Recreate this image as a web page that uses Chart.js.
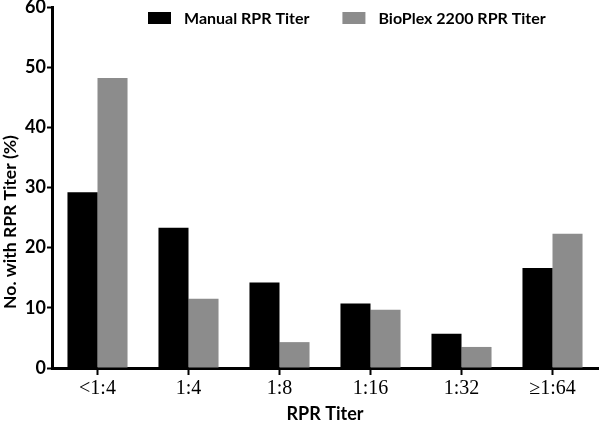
<!DOCTYPE html>
<html>
<head>
<meta charset="utf-8">
<script src="https://cdn.jsdelivr.net/npm/chart.js@4/dist/chart.umd.min.js"></script>
<style>
  html, body { margin: 0; padding: 0; background: #fff; }
  #wrap { width: 600px; height: 423px; }
</style>
</head>
<body>
<div id="wrap"><canvas id="c" width="600" height="423"></canvas></div>
<script>
const categories = ['<1:4', '1:4', '1:8', '1:16', '1:32', '\u22651:64'];
const manualRPR = [29.2, 23.3, 14.2, 10.7, 5.7, 16.6];
const bioplexRPR = [48.2, 11.5, 4.3, 9.7, 3.5, 22.3];
const seriesNames = ['Manual RPR Titer', 'BioPlex 2200 RPR Titer'];
const yTitle = 'No. with RPR Titer (%)';
const xTitle = 'RPR Titer';

const SANS = 'Lato, "Open Sans", sans-serif';

const customLegend = {
  id: 'customLegend',
  afterDraw(chart) {
    const ctx = chart.ctx;
    ctx.save();
    ctx.font = 'bold 16px ' + SANS;
    ctx.textBaseline = 'middle';
    ctx.textAlign = 'left';
    let x = 148;
    const boxY = 12, boxH = 12, boxW = 23;
    chart.data.datasets.forEach((ds, i) => {
      ctx.fillStyle = ds.backgroundColor;
      ctx.fillRect(x, boxY, boxW, boxH);
      const tx = x + 36;
      ctx.fillStyle = '#000';
      ctx.fillText(ds.label, tx, boxY + boxH / 2 + 0.5);
      x = tx + ctx.measureText(ds.label).width + 33;
    });
    ctx.restore();
  }
};

const yTitlePlugin = {
  id: 'yTitlePlugin',
  afterDraw(chart) {
    const ctx = chart.ctx;
    ctx.save();
    ctx.font = 'bold 17.5px ' + SANS;
    ctx.fillStyle = '#000';
    ctx.textAlign = 'center';
    ctx.textBaseline = 'middle';
    ctx.translate(10, 222);
    ctx.rotate(-Math.PI / 2);
    ctx.fillText(yTitle, 0, 0);
    ctx.restore();
  }
};

new Chart(document.getElementById('c'), {
  type: 'bar',
  data: {
    labels: categories,
    datasets: [
      { label: seriesNames[0], data: manualRPR, backgroundColor: '#000000', borderWidth: 0 },
      { label: seriesNames[1], data: bioplexRPR, backgroundColor: '#8c8c8c', borderWidth: 0 }
    ]
  },
  options: {
    responsive: false,
    animation: false,
    devicePixelRatio: 1,
    layout: { padding: { top: 7, right: 2, left: 0, bottom: 0 } },
    datasets: { bar: { categoryPercentage: 0.66, barPercentage: 1.0 } },
    plugins: {
      legend: { display: false },
      tooltip: { enabled: false }
    },
    scales: {
      x: {
        grid: { display: true, offset: false, drawOnChartArea: false, drawTicks: true, tickLength: 7, tickWidth: 2, tickColor: '#000' },
        border: { display: true, color: '#000', width: 3 },
        ticks: { color: '#000', font: { family: '"Liberation Serif", "Times New Roman", serif', size: 20 }, padding: 2, maxRotation: 0, autoSkip: false },
        title: { display: true, text: xTitle, color: '#000', font: { family: SANS, size: 18, weight: 'bold', lineHeight: 1 }, padding: 0 },
        afterFit(scale) { scale.height = 55; scale.paddingLeft = 0; scale.paddingRight = 0; }
      },
      y: {
        min: 0, max: 60,
        ticks: { stepSize: 10, color: '#000', font: { family: SANS, size: 18, weight: 'bold' }, padding: 1 },
        grid: { display: true, drawOnChartArea: false, drawTicks: true, tickLength: 5, tickWidth: 2, tickColor: '#000' },
        border: { display: true, color: '#000', width: 3 },
        afterFit(scale) { scale.width = 52; scale.paddingTop = 0; scale.paddingBottom = 0; }
      }
    }
  },
  plugins: [customLegend, yTitlePlugin]
});
</script>
</body>
</html>
